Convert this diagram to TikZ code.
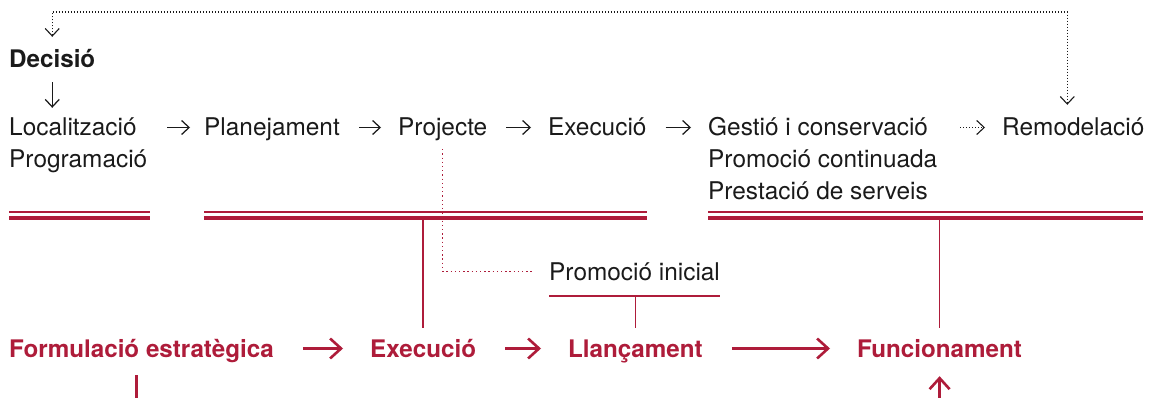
\documentclass[tikz,border=0pt]{standalone}
\usepackage{fontspec}
\setmainfont{TeX Gyre Heros}
\usetikzlibrary{arrows.meta, positioning}
\usepackage{xcolor}
\definecolor{plred}{RGB}{174,28,58}
\definecolor{plink}{RGB}{26,26,26}
\tikzset{
    txt/.style={anchor=base west, inner sep=0pt, text height=17pt, text depth=0pt,
                font=\fontsize{24.4}{28}\selectfont, text=plink},
    head/.style={txt, font=\fontsize{24.2}{28}\selectfont\bfseries},
    phase/.style={head, text=plred},
    arr/.style={-{Straight Barb[length=7.5pt, width=14pt]}, line width=1.25pt, plink,
                shorten <=19pt, shorten >=17pt},
    dotarr/.style={arr, dash pattern=on 1pt off 2pt, line width=1.1pt},
    redarr/.style={-{Straight Barb[length=11pt, width=20pt]}, line width=2.6pt, plred,
                   shorten <=29pt, shorten >=27pt},
    redline/.style={line width=1.5pt, plred},
    reddot/.style={line width=1.4pt, plred, dash pattern=on 1.3pt off 2.9pt},
    thinbar/.style={line width=1.2pt, plred},
    thickbar/.style={line width=4pt, plred},
}

\begin{document}
\begin{tikzpicture}[x=1pt, y=-1pt]
    \useasboundingbox (0,0) rectangle (1150,398);
    % etapes
    \node[head] (dec) at (9,68) {Decisió};
    \node[txt] (loc) at (9,136) {Localització};
    \node[txt, below=14pt of loc.south west, anchor=north west] (prog) {Programació};
    \node[txt] (plan) at (204,136) {Planejament};
    \node[txt] (proj) at (398,136) {Projecte};
    \node[txt] (exe) at (548,136) {Execució};
    \node[txt] (gest) at (708,136) {Gestió i conservació};
    \node[txt, below=14pt of gest.south west, anchor=north west] (prom) {Promoció continuada};
    \node[txt, below=15pt of prom.south west, anchor=north west] (prest) {Prestació de serveis};
    \node[txt] (remo) at (1002,136) {Remodelació};
    \node[txt] (pini) at (549,280) {Promoció inicial};
    % fases
    \node[phase] (form) at (9,357) {Formulació estratègica};
    \node[phase] (fexe) at (370,357) {Execució};
    \node[phase] (llan) at (568,357) {Llançament};
    \node[phase] (func) at (857,357) {Funcionament};
    \coordinate (loop) at (0,12);
    \coordinate (bar) at (0,218);
    \coordinate (pline) at (0,296);
    \coordinate (bottom) at (0,398);
    \foreach \a/\b in {9/150, 204/647, 708/1143} {
        \draw[thinbar] (\a,212) -- (\b,212);
        \draw[thickbar] (\a,218) -- (\b,218);
    }
    \draw[arr, shorten <=14pt, shorten >=11pt] (dec.south) -- (dec.south |- loc.north);
    \draw[arr, shorten <=20pt, shorten >=14pt] (prog.east |- loc.east) -- (plan.west);
    \draw[arr] (plan.east) -- (proj.west);
    \draw[arr] (proj.east) -- (exe.west);
    \draw[arr] (exe.east) -- (gest.west);
    \draw[dotarr, shorten <=32pt, shorten >=17pt] (gest.east) -- (remo.west);
    \draw[dotarr, {Straight Barb[length=7.5pt, width=14pt]}-{Straight Barb[length=7.5pt, width=14pt]},
          shorten <=14pt, shorten >=14pt] (dec.north) -- (dec.north |- loop) -| ([xshift=-6pt]remo.north);
    \draw[reddot, shorten <=13pt, shorten >=17pt] (proj.south) |- (pini.west);
    \draw[redline, line width=2.3pt] ([yshift=-16pt]pini.south west) -- ([yshift=-16pt]pini.south east);
    \draw[redline, shorten >=12pt] (fexe.north |- bar) -- (fexe.north);
    \draw[redline, shorten >=12pt] (llan.north |- pline) -- (llan.north);
    \draw[redline, shorten >=12pt] (func.north |- bar) -- (func.north);
    \draw[redarr] (form.east) -- (fexe.west);
    \draw[redarr] (fexe.east) -- (llan.west);
    \draw[redarr] (llan.east) -- (func.west);
    \draw[redline, line width=2.6pt, shorten >=18pt] ([xshift=-5pt]form.south |- bottom) -- ([xshift=-5pt]form.south);
    \draw[redarr, shorten <=0pt, shorten >=19pt] (func.south |- bottom) -- (func.south);
\end{tikzpicture}
\end{document}
